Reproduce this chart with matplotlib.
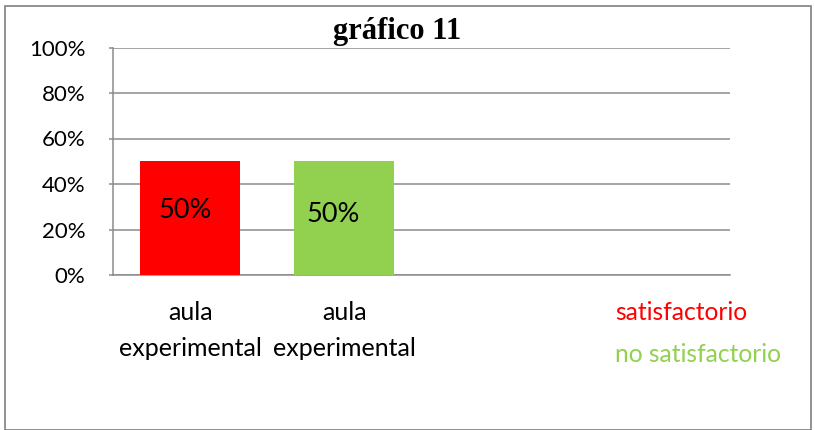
import matplotlib
matplotlib.use("Agg")
import matplotlib.pyplot as plt
from matplotlib.patches import Rectangle
from matplotlib.ticker import PercentFormatter

categories = ["aula\nexperimental", "aula\nexperimental", "", ""]
values = [50, 50]
series = ["satisfactorio", "no satisfactorio"]
colors = ["#ff0000", "#92d050"]
yticks = [0, 20, 40, 60, 80, 100]
title = "gráfico 11"

FONT = "Lato"
W, H = 815, 430
fig = plt.figure(figsize=(W / 100, H / 100), dpi=100)
fig.patch.set_facecolor("white")

# outer border
fig.add_artist(Rectangle((5 / W, 0.0), (811 - 5) / W, (H - 6) / H,
                         transform=fig.transFigure, fill=False,
                         edgecolor="#7f7f7f", linewidth=1.2))

left, right, top, bottom = 113, 730, 47.5, 275
ax = fig.add_axes([left / W, (H - bottom) / H, (right - left) / W, (bottom - top) / H])

ax.set_xlim(-0.5, len(categories) - 0.5)
ax.set_ylim(0, 100)
xs = list(range(len(values)))
ax.bar(xs, values, width=0.648, color=colors, zorder=3)

label_y = [28.5, 26.5]
label_dx = [-0.035, -0.07]
for x, v, ly, dx in zip(xs, values, label_y, label_dx):
    ax.text(x + dx, ly, f"{v:.0f}%", ha="center", va="center",
            fontsize=19.5, family=FONT, color="black", zorder=4)

ax.set_yticks(yticks)
ax.yaxis.set_major_formatter(PercentFormatter(decimals=0))
ax.grid(axis="y", color="#8c8c8c", linewidth=1.1, zorder=0)
ax.set_axisbelow(True)
for s in ["top", "right"]:
    ax.spines[s].set_visible(False)
for s in ["left", "bottom"]:
    ax.spines[s].set_color("#8c8c8c")
    ax.spines[s].set_linewidth(1.1)
ax.tick_params(axis="y", length=3, width=1.1, color="#8c8c8c", pad=17, labelsize=16)
for t in ax.get_yticklabels():
    t.set_family(FONT)
    t.set_verticalalignment("center_baseline")

ax.set_xticks(range(len(categories)))
ax.set_xticklabels(categories, fontsize=18, family=FONT, linespacing=1.65)
ax.tick_params(axis="x", length=0, pad=19)

fig.text(397 / W, 1 - 31 / H, title, ha="center", va="center",
         fontsize=22, fontweight="bold", family="Liberation Serif")

for name, c, yy in zip(series, colors, [313, 355]):
    fig.text(615 / W, 1 - yy / H, name, ha="left", va="center",
             fontsize=17.7, family=FONT, color=c)

fig.savefig("out.png", dpi=100)
